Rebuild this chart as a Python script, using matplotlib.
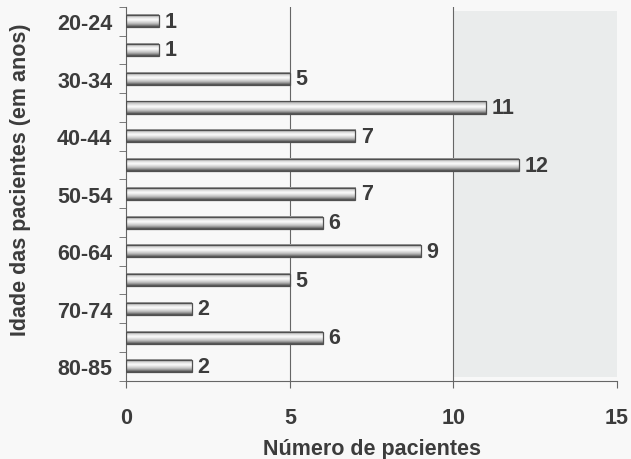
import matplotlib
matplotlib.use('Agg')
import matplotlib.pyplot as plt
from matplotlib.colors import LinearSegmentedColormap
import numpy as np

# age groups (top to bottom) and number of patients
faixas = ['20-24', '25-29', '30-34', '35-39', '40-44', '45-49', '50-54',
          '55-59', '60-64', '65-69', '70-74', '75-79', '80-85']
pacientes = [1, 1, 5, 11, 7, 12, 7, 6, 9, 5, 2, 6, 2]
xticks = [0, 5, 10, 15]

plt.rcParams['font.family'] = ['Liberation Sans', 'DejaVu Sans']
txt = '#3c3c3c'
fs = 15.5

fig = plt.figure(figsize=(6.31, 4.60), dpi=100)
fig.patch.set_facecolor('#f8f8f8')
ax = fig.add_axes([0.2, 0.17, 0.778, 0.813])
ax.set_facecolor('#f8f8f8')

n = len(faixas)
y = np.arange(n)
h = 0.42

# faint grey area seen on the scan, right side
ax.axvspan(10, 15, ymin=0.01, ymax=0.99, color='#eaecec', zorder=0, lw=0)

# cylinder-like shading for the bars
cyl = LinearSegmentedColormap.from_list('cyl', ['#fbfbfb', '#b8b8b8', '#484848'])
t = np.linspace(-1, 1, 64)
grad = (np.abs(t + 0.15) / 1.15) ** 1.2
grad = grad[:, None]
for yi, v in zip(y, pacientes):
    ax.imshow(grad, cmap=cyl, vmin=0, vmax=1, aspect='auto',
              extent=[0, v, yi + h / 2, yi - h / 2], zorder=2, interpolation='bilinear')
    ax.barh(yi, v, height=h, facecolor='none', edgecolor='#505050', lw=0.9, zorder=3)
    ax.text(v + 0.17, yi, str(v), va='center', ha='left', fontsize=fs,
            fontweight='bold', color=txt, zorder=4)

for gx in [5, 10]:
    ax.axvline(gx, color='#666666', lw=0.8, zorder=1)

ax.set_xlim(0, 15)
ax.set_ylim(n - 0.5, -0.5)

ax.set_xticks(xticks)
ax.set_xticklabels([str(v) for v in xticks], fontsize=fs, fontweight='bold', color=txt)
ax.tick_params(axis='x', length=5, pad=14, color='#666666')

ax.set_yticks(y[::2])
ax.set_yticklabels(faixas[::2], fontsize=fs, fontweight='bold', color=txt)
ax.set_yticks(np.arange(n + 1) - 0.5, minor=True)
ax.tick_params(axis='y', which='major', length=0, pad=10)
ax.tick_params(axis='y', which='minor', length=5, color='#666666')

for s in ['top', 'right']:
    ax.spines[s].set_visible(False)
for s in ['left', 'bottom']:
    ax.spines[s].set_color('#666666')
    ax.spines[s].set_linewidth(0.8)

ax.set_xlabel('Número de pacientes', fontsize=fs, fontweight='bold', color=txt, va='center')
ax.set_ylabel('Idade das pacientes (em anos)', fontsize=fs, fontweight='bold', color=txt, va='center')
ax.xaxis.set_label_coords(0.5, -0.18)
ax.yaxis.set_label_coords(-0.215, 0.54)

fig.savefig('out.png', dpi=100, facecolor=fig.get_facecolor())
